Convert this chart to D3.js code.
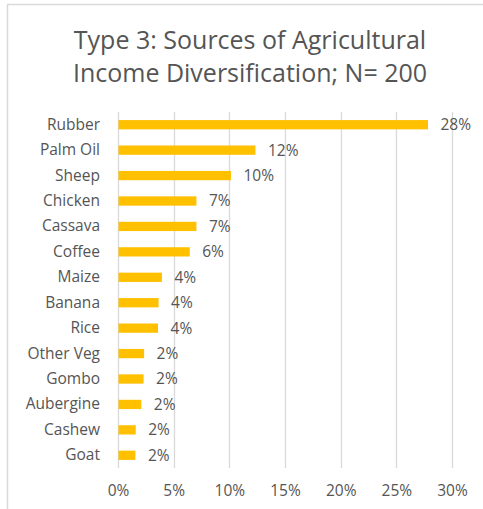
<!DOCTYPE html>
<html><head><meta charset="utf-8">
<script src="https://cdn.jsdelivr.net/npm/d3@7"></script>
<style>html,body{margin:0;padding:0;background:#fff;}svg{display:block;}</style>
</head><body>
<script>
const categories = ["Rubber","Palm Oil","Sheep","Chicken","Cassava","Coffee","Maize","Banana","Rice","Other Veg","Gombo","Aubergine","Cashew","Goat"];
const values = [0.278,0.123,0.101,0.070,0.070,0.064,0.039,0.036,0.0355,0.023,0.0225,0.0205,0.0155,0.0152];
const tickValues = [0,0.05,0.10,0.15,0.20,0.25,0.30];
const titleLines = ["Type 3: Sources of Agricultural","Income Diversification; N= 200"];

const W=483,H=509;
const font="'Open Sans', sans-serif";
const grey="#555555";
const svg=d3.select("body").append("svg").attr("width",W).attr("height",H);
svg.append("rect").attr("x",0).attr("y",0).attr("width",W).attr("height",H).attr("fill","#fff");
svg.append("rect").attr("x",7.5).attr("y",4.5).attr("width",W+10).attr("height",H+10)
  .attr("fill","none").attr("stroke","#D9D9D9").attr("stroke-width",1.5);

svg.selectAll("text.title").data(titleLines).join("text").attr("class","title")
  .attr("x",250).attr("y",(d,i)=>48.5+i*33).attr("text-anchor","middle")
  .attr("font-family",font).attr("font-size",25).attr("fill",grey).text(d=>d);

const x=d3.scaleLinear().domain([0,0.30]).range([118,452]);
const y=d3.scaleBand().domain(categories).range([112,468]).paddingInner(0.635).paddingOuter(0.3175);

svg.append("g").selectAll("line").data(tickValues).join("line")
  .attr("x1",d=>Math.round(x(d))+0.5).attr("x2",d=>Math.round(x(d))+0.5)
  .attr("y1",112).attr("y2",468).attr("stroke","#D9D9D9").attr("stroke-width",1.3);

const xAxis=svg.append("g").attr("transform","translate(0,468)")
  .call(d3.axisBottom(x).tickValues(tickValues).tickFormat(d3.format(".0%")).tickSize(0).tickPadding(17));
xAxis.select(".domain").remove();
xAxis.selectAll("text").attr("font-family",font).attr("font-size",15.5).attr("fill",grey);

const yAxis=svg.append("g").attr("transform","translate(118,0)")
  .call(d3.axisLeft(y).tickSize(0).tickPadding(18));
yAxis.select(".domain").remove();
yAxis.selectAll("text").attr("font-family",font).attr("font-size",15.5).attr("fill",grey);

const data=categories.map((c,i)=>({c,v:values[i]}));
svg.append("g").selectAll("rect").data(data).join("rect")
  .attr("x",x(0)+0.5).attr("y",d=>y(d.c)).attr("width",d=>x(d.v)-x(0)).attr("height",y.bandwidth())
  .attr("fill","#FFC000");

svg.append("g").selectAll("text").data(data).join("text")
  .attr("x",d=>x(d.v)+13).attr("y",d=>y(d.c)+y.bandwidth()/2).attr("dy","0.35em")
  .attr("font-family",font).attr("font-size",15.5).attr("fill",grey)
  .text(d=>d3.format(".0%")(d.v));
</script>
</body></html>
